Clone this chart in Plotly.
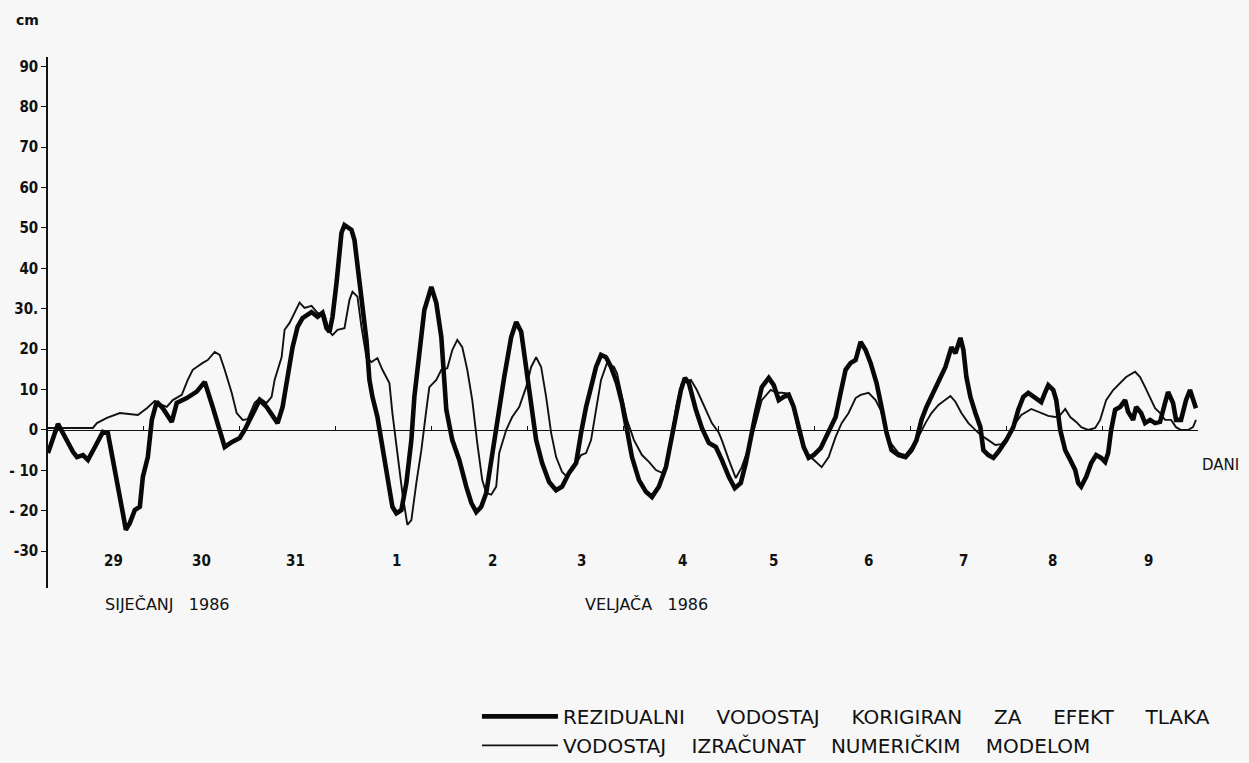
import plotly.graph_objects as go

# ---- data (time in hours from 29 Jan 1986 00:00, water level in cm) ----
resid_hours = [0, 2.5, 6.25, 7.25, 8.75, 10, 11.75, 13.75, 15, 16, 17.5, 18.75, 19.5, 20.5, 21.75, 23, 23.75,
               25, 26, 27.25, 28.75, 31, 32.25, 34.75, 37.25, 39.25, 41.25, 43, 44.25, 46, 48, 49.25, 50.5,
               53, 54.75, 57.5, 58.75, 60, 61.25, 62.5, 63.75, 66, 67.5, 68.75, 69.75, 70.5, 71.25, 72.25,
               73.5, 74.25, 76, 76.75, 77.5, 78.75, 79.75, 80.5, 81.25, 82.5, 83.75, 85, 86.25, 87.25, 88.5,
               89.75, 91, 91.75, 93, 94.25, 96, 97.25, 98.5, 99.25, 99.75, 101.25, 103, 104.75, 106, 107.25,
               108.5, 109.75, 111, 112.5, 114.25, 116, 117.25, 118.5, 119.75, 121, 122.25, 123.75, 125.5,
               127.25, 128.75, 130.5, 132.25, 133.5, 134.75, 136, 137.25, 138.5, 139.75, 141, 142.5, 143.75,
               145, 146.25, 148, 149.75, 151.25, 153, 154.75, 156, 157.25, 158.5, 159.5, 160.5, 162.25,
               163.75, 165.5, 167.25, 168.75, 170.5, 172, 173.5, 174.75, 176, 177.25, 178.75, 180.5, 181.75,
               183, 184.25, 185.5, 186.75, 188, 189.25, 190.5, 191.75, 193.5, 195.5, 197.25, 198.5, 199.75,
               201, 202.25, 203.5, 204.75, 206, 207.5, 208.75, 210, 211.25, 213, 214.75, 216.25, 217.5,
               218.75, 220, 221.75, 223, 224.75, 226.25, 227.25, 228.5, 229.25, 230, 231, 232.25, 233.5,
               234.25, 235.5, 236.75, 238, 240, 241.75, 243, 244.25, 245.5, 247.25, 248.75, 249.75, 250.5,
               251.75, 252.5, 253.5, 254.75, 256, 257.25, 258, 258.75, 260, 261.25, 262.5, 263.75, 264.75,
               265.5, 266.25, 267.25, 268.5, 269.75, 270.5, 271.75, 272.5, 273.75, 274.75, 276, 277.25,
               278.5, 279.75, 280.5, 281.75, 282.5, 283.75, 285, 286, 286.75, 287.5]
resid_cm = [-5.7, 1.5, -5.4, -6.7, -6.2, -7.4, -4.2, -0.5, -0.8, -5.7, -14, -20.6, -24.7, -23, -19.8, -19, -11.6,
            -6.7, 2.5, 7, 5.4, 2, 6.7, 7.9, 9.5, 11.9, 5.7, -0.7, -4.2, -3, -2, 0, 2.5,
            7.4, 5.7, 1.7, 5.7, 14, 20.5, 25.5, 27.7, 29.2, 28, 29, 25.2, 24.3, 28, 36.4,
            48.8, 50.7, 49.5, 47, 40.3, 30.4, 22.3, 12.4, 8.2, 3.2, -4.2, -13.1, -19, -20.6, -19.8,
            -13.1, -2.5, 8.2, 19.8, 29.7, 35.4, 31.4, 23, 10.6, 5, -2.5, -7.4, -14, -18, -20.3,
            -19, -15.6, -7.4, 2.5, 13.1, 23, 26.7, 24.3, 15.6, 5, -2.5, -8.2, -12.9,
            -14.9, -14, -10.6, -8.2, -0.7, 5.7, 10.6, 15.6, 18.6, 18, 15.6, 11.6, 6.7,
            0, -6.7, -12.4, -15.3, -16.6, -14, -9.2, -2.5, 4.2, 9.9, 12.9, 11.6, 5,
            0.5, -3.2, -4.2, -7.4, -11.6, -14.4, -13.1, -8.2, -1.7, 4.2, 10.6, 12.9, 11.1,
            7.4, 8.2, 8.7, 5.7, 0.7, -4.2, -6.9, -6.2, -4.5, -0.7, 3.2, 9.2, 14.9,
            16.6, 17.3, 21.8, 19.8, 16.6, 11.6, 5.7, -0.7, -5, -6.2, -6.7, -5, -2.5,
            2.5, 5.7, 9.2, 11.6, 15.6, 20.5, 19, 22.8, 19.8, 13.1, 8.2, 4.2, 0.7,
            -5, -6.2, -6.9, -5.4, -2.5, 0.7, 5, 8.2, 9.2, 7.9, 6.9, 9.4, 11.1,
            9.9, 7.4, 0, -5, -7.4, -9.9, -13.1, -14, -11.6, -8.2, -6.2, -6.9, -7.9,
            -5.7, 0, 5, 5.7, 7.4, 4.5, 2.5, 5.7, 4.2, 1.7, 2.5, 1.7,
            2, 6.7, 9.4, 6.7, 2.5, 2.5, 7.4, 9.9, 7.4, 5.4]

model_hours = [0, 11.25, 12.25, 14.75, 18, 20.5, 22.5, 24.75, 26.75, 28.5, 29.75, 31.25, 33.5, 35, 36.25, 38.75,
               40, 41.75, 43, 44.25, 46, 47.25, 48.75, 50, 51.75, 53, 54.75, 56, 56.75, 58.5, 59.25, 60.5,
               61.75, 63, 64.25, 66, 67.5, 69.25, 70.5, 71.25, 72.5, 74.25, 75.5, 76.25, 77.5, 78.5, 79.75,
               81, 82.5, 83.75, 85.5, 86.25, 87.5, 88.75, 90, 91, 92.25, 93.5, 94.75, 95.5, 97.25, 98.5, 100,
               101.25, 102.5, 103.75, 105, 106.25, 107.5, 108.75, 109.75, 111, 112.25, 113, 114.75, 116.25,
               118, 119.75, 121, 122.25, 123.5, 124.75, 126, 127.25, 128.75, 130, 131.75, 133.5, 134.75, 136,
               137.25, 138.5, 140, 141.75, 142.5, 143.75, 145, 146.75, 148.75, 150.5, 152.25, 153.75, 155,
               156.25, 157.5, 158.75, 161, 162.5, 164.75, 166.25, 168, 168.75, 170.5, 172.25, 173.75, 175.5,
               177.25, 178.75, 181, 182.5, 183.75, 185.5, 186.75, 188, 189.25, 191, 193.75, 195.5, 197.25,
               198.75, 200.5, 202.25, 203.5, 205.5, 207.25, 208.5, 209.75, 211, 213, 214.75, 216.25, 218,
               219.75, 221.25, 223, 224.75, 226, 227.25, 228.75, 230.5, 232.25, 233.5, 235.5, 237.25, 238.75,
               240.5, 242.25, 243.75, 246.25, 248.75, 250.5, 252.25, 253.5, 254.75, 256, 257.5, 258.75, 260.5,
               262.25, 263.5, 265, 266.75, 268.5, 270, 272.25, 273.5, 274.75, 276, 277.25, 278.5, 279.75,
               281.25, 282.5, 283.75, 285.5, 286.75, 287.5]
model_cm = [0.5, 0.5, 1.7, 3, 4.2, 4, 3.7, 5.4, 7.2, 6.2, 5.7, 7.4, 8.7, 12.4, 14.9, 16.6,
            17.3, 19.3, 18.6, 14.9, 9.2, 4.2, 2.5, 2.7, 6.7, 7.9, 6.7, 8.2, 12.4, 18, 24.8, 26.5,
            29, 31.5, 30.2, 30.7, 29, 28.5, 24.3, 23.5, 24.8, 25.2, 32.2, 34.2, 33, 25.5, 18,
            16.8, 17.8, 14.9, 11.6, 4.2, -5.7, -15.6, -23.5, -22.3, -13.1, -5, 5, 10.6, 12.4, 14.9, 15.3,
            19.8, 22.3, 20.5, 14.9, 7.4, -3.2, -12.4, -15.6, -16, -14, -5.7, 0, 3.2,
            5.7, 10.6, 15.6, 18, 15.6, 8.2, -0.7, -6.7, -10.4, -11.6, -9.2, -6.2, -5.7, -2.5,
            5, 12.4, 16.6, 15.6, 14, 8.2, 2.5, -2.5, -6.2, -7.9, -9.9, -10.6, -8.2,
            -0.7, 6.7, 11.6, 12.4, 9.9, 5, 1.7, -0.7, -2.5, -7.4, -11.9, -9.2, -4.2,
            1.7, 7.4, 9.9, 9.2, 9.2, 9, 5, -0.7, -4.5, -6.7, -9.2, -6.7, -1.7,
            1.7, 4.2, 7.9, 8.7, 9.2, 7.4, 5, 0.7, -3.2, -5.7, -6.2, -4.2, -1.7,
            1.7, 4.2, 6.2, 7.4, 8.4, 7, 4.2, 1.7, 0, -1.2, -2.5, -3.7, -3.5,
            -1.5, 1.7, 3.7, 5.2, 4.2, 3.5, 3.2, 3.7, 5.2, 3.2, 2, 0.7, 0,
            0.5, 2.5, 7.4, 9.9, 11.6, 13.1, 14.4, 13.1, 10.6, 7.9, 5.4, 4.2, 2.5,
            2.5, 0.7, 0, 0, 0.7, 2.5]

y_tick_vals = [-30, -20, -10, 0, 10, 20, 30, 40, 50, 60, 70, 80, 90]
y_tick_text = ["-30", "- 20", "- 10", "0", "10", "20", "30.", "40", "50", "60", "70", "80", "90"]
day_tick_hours = [0, 24, 48, 72, 96, 120, 144, 168, 192, 216, 240, 264, 288]
day_label_hours = [16.3, 38.5, 62.1, 87.4, 111.2, 133.5, 159.0, 181.6, 205.4, 229.2, 251.5, 275.5]
day_labels = ["29", "30", "31", "1", "2", "3", "4", "5", "6", "7", "8", "9"]
month_label_hours = [13.8, 134.0]
month_labels = ["SIJEČANJ\u00a0\u00a0\u00a01986", "VELJAČA\u00a0\u00a0\u00a01986"]
name_resid = ("\u00a0" * 5).join(["REZIDUALNI", "VODOSTAJ", "KORIGIRAN", "ZA", "EFEKT", "TLAKA"])
name_model = ("\u00a0" * 4).join(["VODOSTAJ", "IZRAČUNAT", "NUMERIČKIM", "MODELOM"])

FONT_C = "DejaVu Sans Condensed, DejaVu Sans, sans-serif"
FONT = "DejaVu Sans, sans-serif"
BG = "#f7f7f7"
INK = "#111111"

fig = go.Figure()
fig.add_trace(go.Scatter(x=model_hours, y=model_cm, mode="lines", name=name_model,
                         line=dict(color=INK, width=1.9), legendrank=2))
fig.add_trace(go.Scatter(x=resid_hours, y=resid_cm, mode="lines", name=name_resid,
                         line=dict(color="#080808", width=4.6), legendrank=1))

fig.update_layout(
    width=1249, height=763, autosize=False,
    paper_bgcolor=BG, plot_bgcolor=BG,
    margin=dict(l=48, r=51, t=57, b=175, autoexpand=False),
    font=dict(family=FONT, color=INK),
    showlegend=True,
    legend=dict(x=0.373, y=-0.205, xanchor="left", yanchor="top",
                bgcolor="rgba(0,0,0,0)", itemwidth=76,
                font=dict(family=FONT, size=20, color=INK),
                traceorder="normal"),
    xaxis=dict(range=[0, 288], anchor="free", position=0.2976,
               showline=True, linecolor=INK, linewidth=1.3,
               tickvals=day_tick_hours, ticks="inside", ticklen=4, tickwidth=1.2,
               tickcolor=INK, showticklabels=False,
               showgrid=False, zeroline=False),
    yaxis=dict(range=[-39.1, 92.3], showline=True, linecolor=INK, linewidth=1.5,
               tickvals=y_tick_vals, ticktext=y_tick_text, ticks="outside", ticklen=5,
               tickwidth=1.2, tickcolor=INK,
               tickfont=dict(family=FONT_C, size=15, color=INK, weight="bold"),
               showgrid=False, zeroline=False),
)

annotations = [
    dict(text="cm", xref="paper", yref="paper", x=-0.018, y=1.07, xanchor="center", yanchor="middle",
         showarrow=False, font=dict(family=FONT, size=14, color=INK, weight="bold")),
    dict(text="DANI", xref="paper", yref="y", x=1.0017, y=-8.7, xanchor="left", yanchor="middle",
         showarrow=False, font=dict(family=FONT, size=15, color=INK)),
]
for h, t in zip(day_label_hours, day_labels):
    annotations.append(dict(text=t, xref="x", yref="paper", x=h, y=0.051, xanchor="center",
                            yanchor="middle", showarrow=False,
                            font=dict(family=FONT_C, size=15, color=INK, weight="bold")))
for h, t in zip(month_label_hours, month_labels):
    annotations.append(dict(text=t, xref="x", yref="paper", x=h, y=-0.032, xanchor="left",
                            yanchor="middle", showarrow=False,
                            font=dict(family=FONT, size=16, color=INK)))
fig.update_layout(annotations=annotations)

fig.write_html("out.html", config={"displayModeBar": False},
               post_script="document.body.style.margin='0px';document.body.style.overflow='hidden';")
